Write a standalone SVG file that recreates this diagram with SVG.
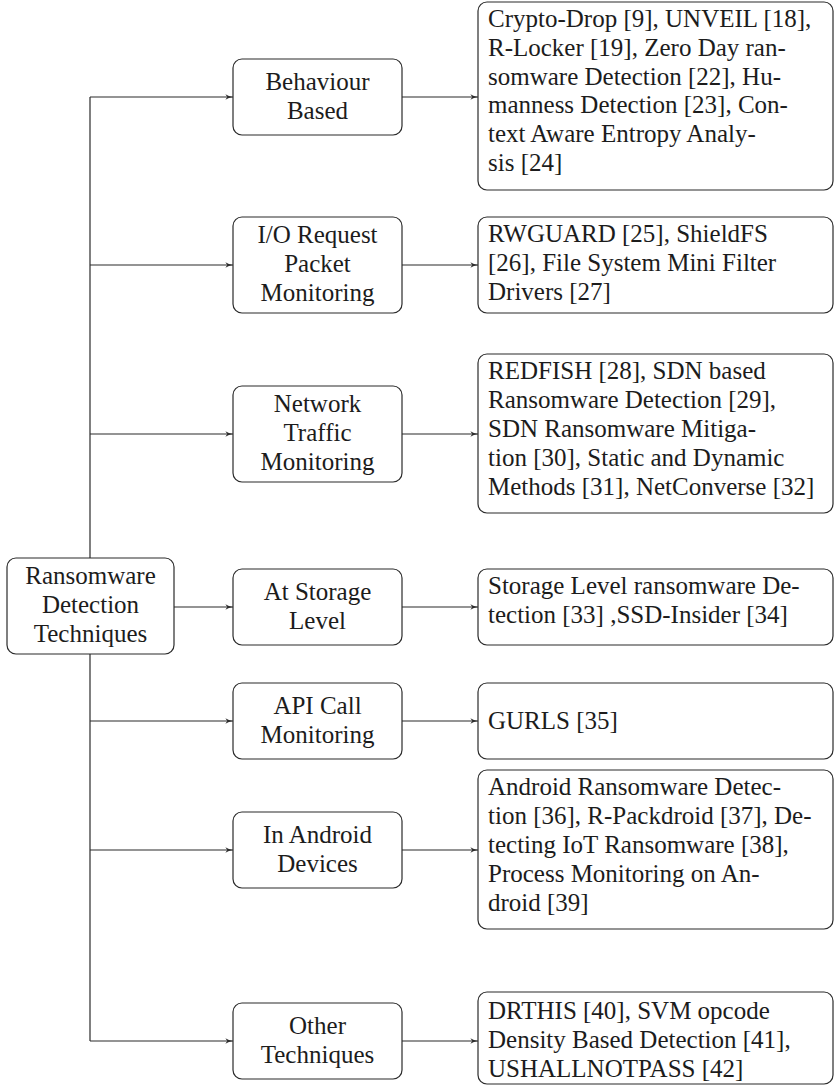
<svg xmlns="http://www.w3.org/2000/svg" width="834" height="1086" viewBox="0 0 834 1086">
  <defs>
    <marker id="arrow" viewBox="0 0 8 6" refX="7.6" refY="3" markerWidth="8" markerHeight="6" markerUnits="userSpaceOnUse" orient="auto">
      <path d="M0,0.2 Q3.2,2.3 7.6,3 Q3.2,3.7 0,5.8 L1.9,3 Z" fill="#2b2b2b"/>
    </marker>
  </defs>

  <!-- connectors: trunk, branches to categories, and category-to-method links -->
  <g id="connectors" fill="none" stroke="#2b2b2b" stroke-width="1.2">
    <path d="M90,97 V1041"/>
    <path d="M90,97 H233" marker-end="url(#arrow)"/>
    <path d="M90,265 H233" marker-end="url(#arrow)"/>
    <path d="M90,434 H233" marker-end="url(#arrow)"/>
    <path d="M174,607 H233" marker-end="url(#arrow)"/>
    <path d="M90,721 H233" marker-end="url(#arrow)"/>
    <path d="M90,850 H233" marker-end="url(#arrow)"/>
    <path d="M90,1041 H233" marker-end="url(#arrow)"/>

    <path d="M402,97 H478" marker-end="url(#arrow)"/>
    <path d="M402,265 H478" marker-end="url(#arrow)"/>
    <path d="M402,434 H478" marker-end="url(#arrow)"/>
    <path d="M402,607 H478" marker-end="url(#arrow)"/>
    <path d="M402,721 H478" marker-end="url(#arrow)"/>
    <path d="M402,850 H478" marker-end="url(#arrow)"/>
    <path d="M402,1041 H478" marker-end="url(#arrow)"/>
  </g>

  <!-- shared look for every node: white rounded box, serif label -->
  <g id="nodes" font-size="25" fill="#1c1c1c">

  <g id="root">
    <rect fill="#ffffff" stroke="#2b2b2b" stroke-width="1.2" x="7" y="558" width="167" height="96" rx="9"/>
    <g text-anchor="middle">
      <text font-family="Liberation Serif" x="90.5" y="584">Ransomware</text>
      <text font-family="Liberation Serif" x="90.5" y="613">Detection</text>
      <text font-family="Liberation Serif" x="90.5" y="642">Techniques</text>
    </g>
  </g>

  <!-- categories -->
  <g id="behaviour-based">
    <rect fill="#ffffff" stroke="#2b2b2b" stroke-width="1.2" x="233" y="59" width="169" height="76" rx="9"/>
    <g text-anchor="middle">
      <text font-family="Liberation Serif" x="317.5" y="90">Behaviour</text>
      <text font-family="Liberation Serif" x="317.5" y="119">Based</text>
    </g>
  </g>

  <g id="io-request">
    <rect fill="#ffffff" stroke="#2b2b2b" stroke-width="1.2" x="233" y="217" width="169" height="96" rx="9"/>
    <g text-anchor="middle">
      <text font-family="Liberation Serif" x="317.5" y="243">I/O Request</text>
      <text font-family="Liberation Serif" x="317.5" y="272">Packet</text>
      <text font-family="Liberation Serif" x="317.5" y="301">Monitoring</text>
    </g>
  </g>

  <g id="network-traffic">
    <rect fill="#ffffff" stroke="#2b2b2b" stroke-width="1.2" x="233" y="386" width="169" height="96" rx="9"/>
    <g text-anchor="middle">
      <text font-family="Liberation Serif" x="317.5" y="412">Network</text>
      <text font-family="Liberation Serif" x="317.5" y="441">Traffic</text>
      <text font-family="Liberation Serif" x="317.5" y="470">Monitoring</text>
    </g>
  </g>

  <g id="storage-level">
    <rect fill="#ffffff" stroke="#2b2b2b" stroke-width="1.2" x="233" y="569" width="169" height="76" rx="9"/>
    <g text-anchor="middle">
      <text font-family="Liberation Serif" x="317.5" y="600">At Storage</text>
      <text font-family="Liberation Serif" x="317.5" y="629">Level</text>
    </g>
  </g>

  <g id="api-call">
    <rect fill="#ffffff" stroke="#2b2b2b" stroke-width="1.2" x="233" y="683" width="169" height="76" rx="9"/>
    <g text-anchor="middle">
      <text font-family="Liberation Serif" x="317.5" y="714">API Call</text>
      <text font-family="Liberation Serif" x="317.5" y="743">Monitoring</text>
    </g>
  </g>

  <g id="android-devices">
    <rect fill="#ffffff" stroke="#2b2b2b" stroke-width="1.2" x="233" y="812" width="169" height="76" rx="9"/>
    <g text-anchor="middle">
      <text font-family="Liberation Serif" x="317.5" y="843">In Android</text>
      <text font-family="Liberation Serif" x="317.5" y="872">Devices</text>
    </g>
  </g>

  <g id="other-techniques">
    <rect fill="#ffffff" stroke="#2b2b2b" stroke-width="1.2" x="233" y="1003" width="169" height="76" rx="9"/>
    <g text-anchor="middle">
      <text font-family="Liberation Serif" x="317.5" y="1034">Other</text>
      <text font-family="Liberation Serif" x="317.5" y="1063">Techniques</text>
    </g>
  </g>

  <!-- methods -->
  <g id="behaviour-methods">
    <rect fill="#ffffff" stroke="#2b2b2b" stroke-width="1.2" x="478" y="2" width="355" height="188" rx="9"/>
    <text font-family="Liberation Serif" x="488" y="27">Crypto-Drop [9], UNVEIL [18],</text>
    <text font-family="Liberation Serif" x="488" y="56">R-Locker [19], Zero Day ran-</text>
    <text font-family="Liberation Serif" x="488" y="85">somware Detection [22], Hu-</text>
    <text font-family="Liberation Serif" x="488" y="113">manness Detection [23], Con-</text>
    <text font-family="Liberation Serif" x="488" y="142">text Aware Entropy Analy-</text>
    <text font-family="Liberation Serif" x="488" y="171">sis [24]</text>
  </g>

  <g id="io-methods">
    <rect fill="#ffffff" stroke="#2b2b2b" stroke-width="1.2" x="478" y="217" width="355" height="96" rx="9"/>
    <text font-family="Liberation Serif" x="488" y="242">RWGUARD [25], ShieldFS</text>
    <text font-family="Liberation Serif" x="488" y="271">[26], File System Mini Filter</text>
    <text font-family="Liberation Serif" x="488" y="300">Drivers [27]</text>
  </g>

  <g id="network-methods">
    <rect fill="#ffffff" stroke="#2b2b2b" stroke-width="1.2" x="478" y="354" width="355" height="159" rx="9"/>
    <text font-family="Liberation Serif" x="488" y="379">REDFISH [28], SDN based</text>
    <text font-family="Liberation Serif" x="488" y="408">Ransomware Detection [29],</text>
    <text font-family="Liberation Serif" x="488" y="437">SDN Ransomware Mitiga-</text>
    <text font-family="Liberation Serif" x="488" y="466">tion [30], Static and Dynamic</text>
    <text font-family="Liberation Serif" x="488" y="495">Methods [31], NetConverse [32]</text>
  </g>

  <g id="storage-methods">
    <rect fill="#ffffff" stroke="#2b2b2b" stroke-width="1.2" x="478" y="569" width="355" height="76" rx="9"/>
    <text font-family="Liberation Serif" x="488" y="594">Storage Level ransomware De-</text>
    <text font-family="Liberation Serif" x="488" y="623">tection [33] ,SSD-Insider [34]</text>
  </g>

  <g id="api-methods">
    <rect fill="#ffffff" stroke="#2b2b2b" stroke-width="1.2" x="478" y="683" width="355" height="76" rx="9"/>
    <text font-family="Liberation Serif" x="488" y="729">GURLS [35]</text>
  </g>

  <g id="android-methods">
    <rect fill="#ffffff" stroke="#2b2b2b" stroke-width="1.2" x="478" y="770" width="355" height="159" rx="9"/>
    <text font-family="Liberation Serif" x="488" y="795">Android Ransomware Detec-</text>
    <text font-family="Liberation Serif" x="488" y="824">tion [36], R-Packdroid [37], De-</text>
    <text font-family="Liberation Serif" x="488" y="853">tecting IoT Ransomware [38],</text>
    <text font-family="Liberation Serif" x="488" y="882">Process Monitoring on An-</text>
    <text font-family="Liberation Serif" x="488" y="911">droid [39]</text>
  </g>

  <g id="other-methods">
    <rect fill="#ffffff" stroke="#2b2b2b" stroke-width="1.2" x="478" y="992" width="355" height="92" rx="9"/>
    <text font-family="Liberation Serif" x="488" y="1019">DRTHIS [40], SVM opcode</text>
    <text font-family="Liberation Serif" x="488" y="1048">Density Based Detection [41],</text>
    <text font-family="Liberation Serif" x="488" y="1077">USHALLNOTPASS [42]</text>
  </g>

  </g>
</svg>
